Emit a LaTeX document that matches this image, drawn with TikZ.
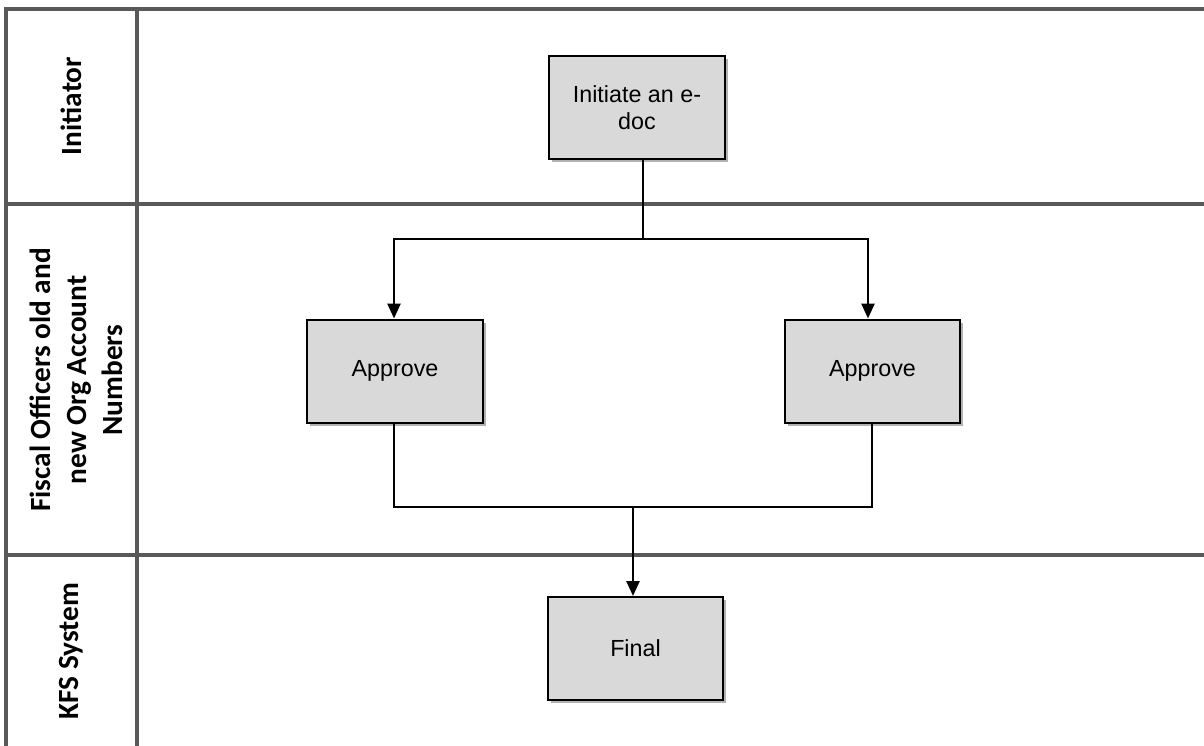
\documentclass[tikz,border=0pt]{standalone}
\usepackage{fontspec}
\setmainfont{Liberation Sans}
\newfontfamily\lanefont{Carlito}
\usetikzlibrary{arrows.meta,shadows}
\definecolor{lanegray}{HTML}{595959}
\definecolor{boxgray}{HTML}{D9D9D9}
\begin{document}
\begin{tikzpicture}[x=1pt,y=-1pt,
  laneline/.style={draw=lanegray,line width=3.5pt},
  stepbox/.style={draw=black,line width=2pt,fill=boxgray,minimum width=176pt,minimum height=103pt,
    align=center,inner sep=0pt,font=\fontsize{23.3}{27}\selectfont,
    drop shadow={shadow xshift=2.5pt,shadow yshift=-3pt,opacity=0.3,fill=black}},
  lanelabel/.style={rotate=90,align=center,font=\lanefont\bfseries\fontsize{29.3}{36}\selectfont},
  conn/.style={draw=black,line width=2.6pt},
  arr/.style={conn,-{Triangle[length=15pt,width=13pt]}}]
\useasboundingbox (0,0) rectangle (1204,746);
\fill[white] (0,0) rectangle (1204,746);
% swimlane grid
\draw[laneline] (6,7) -- (6,746);
\draw[laneline] (137,7) -- (137,746);
\draw[laneline] (4.5,9) -- (1204,9);
\draw[laneline] (4.5,204) -- (1204,204);
\draw[laneline] (4.5,555) -- (1204,555);
% lane labels
\node[lanelabel] (l1) at (71,106) {Initiator};
\node[lanelabel] (l2) at (76,380) {Fiscal Officers old and\\new Org Account\\Numbers};
\node[lanelabel] (l3) at (71,651) {KFS System};
% boxes
\node[stepbox] (init) at (637,107.5) {Initiate an e-\\doc};
\node[stepbox] (a1) at (395,371) {Approve};
\node[stepbox,minimum width=175pt] (a2) at (872.5,371) {Approve};
\node[stepbox,minimum width=175pt] (fin) at (635.5,648.5) {Final};
% connectors
\coordinate (split) at (643,239);
\coordinate (merge) at (633,507);
\draw[conn] ([xshift=6pt]init.south) -- (split);
\draw[arr] (split) -| ([xshift=-1pt]a1.north);
\draw[arr] (split) -| ([xshift=-4.5pt]a2.north);
\draw[conn] ([xshift=-1pt]a1.south) |- (merge);
\draw[conn] ([xshift=-0.5pt]a2.south) |- (merge);
\draw[arr] (merge) -- ([xshift=-2.5pt]fin.north);
\end{tikzpicture}
\end{document}
